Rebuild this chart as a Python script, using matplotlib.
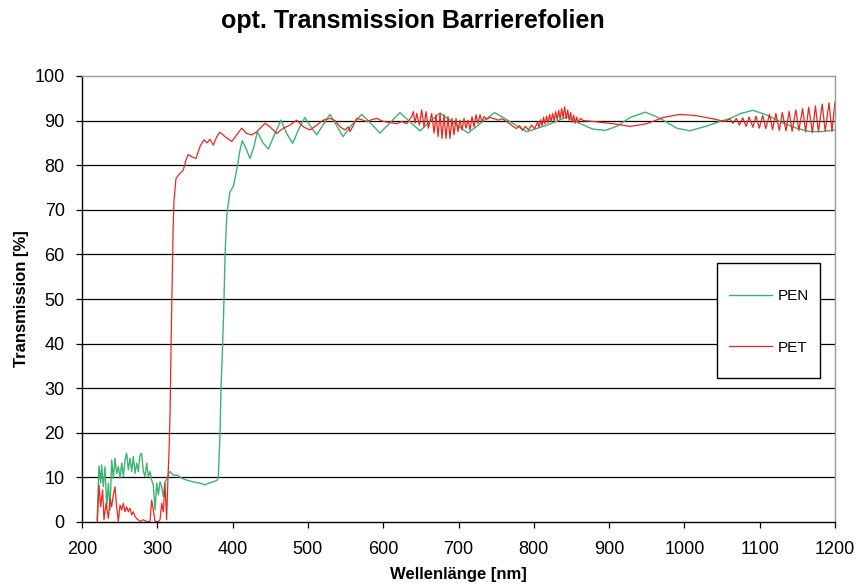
import matplotlib
matplotlib.use("Agg")
import matplotlib.pyplot as plt
from matplotlib.patches import Rectangle

plt.rcParams['font.family'] = ['Liberation Sans', 'DejaVu Sans']

title = "opt. Transmission Barrierefolien"
xlabel = "Wellenlänge [nm]"
ylabel = "Transmission [%]"
series_names = ["PEN", "PET"]
x_ticks = [200, 300, 400, 500, 600, 700, 800, 900, 1000, 1100, 1200]
y_ticks = [0, 10, 20, 30, 40, 50, 60, 70, 80, 90, 100]

pen_x = [220, 222.6, 224.8, 226.1, 228.3, 230.5, 232.8, 235, 237.2, 239.4, 241.6, 243.8,
         246, 248.3, 250.5, 252.7, 254.9, 257.1, 259.3, 261.5, 263.7, 266, 268.2, 270.4,
         272.6, 274.8, 277, 279.2, 281.5, 283.7, 285.9, 288.1, 290.3, 292.5, 294.7, 297,
         299.2, 301.4, 303.6, 305.8, 308, 310.2, 313.3, 315.1, 316.9, 321.3, 326.6, 332.4,
         339, 347.9, 356.7, 363.4, 367.8, 374.4, 379.7, 381, 383.3, 384.6, 386.8, 388.6,
         390, 392, 393, 396.5, 401, 406.3, 409.8, 412.9, 418.7, 423.1, 428.4, 432.8,
         440.8, 447.5, 456.3, 464.3, 471.8, 479.8, 487.3, 496, 503, 511.7, 520, 529.3,
         537, 546.6, 558, 571.4, 583, 595.7, 609, 622.3, 635, 648.9, 662, 675.4,
         694, 712.6, 730, 748, 768, 790.6, 818, 844, 861, 878, 895, 910,
         928, 948, 968, 990, 1007, 1030, 1047, 1061, 1075, 1091, 1109, 1130,
         1149, 1165, 1180, 1200]
pen_y = [0.5, 12.6, 8.7, 12.8, 7.9, 12.4, 3.4, 8.7, 2.7, 13.9, 9.8, 14.3,
         10.9, 12.4, 9.8, 13.2, 10.2, 13.9, 15.4, 11.7, 14.3, 11.3, 14.7, 10.9,
         13.2, 11.3, 15.0, 15.4, 11.3, 10.2, 13.2, 10.2, 11.3, 9.4, 8.3, 2.7,
         8.7, 6.1, 9.0, 7.9, 5.7, 9.0, 9.8, 10.9, 11.3, 10.5, 10.5, 9.8,
         9.4, 9.0, 8.7, 8.3, 8.7, 9.0, 9.4, 10, 20, 30, 40, 50,
         60, 67.7, 70, 74, 75.3, 79.7, 83.4, 85.5, 83.4, 81.5, 84.2, 87.5,
         84.9, 83.6, 87.1, 90.1, 87.1, 84.9, 87.9, 90.7, 88.8, 86.8, 89.0, 91.4,
         89.2, 86.4, 89.0, 91.4, 89.5, 87.2, 89.5, 91.8, 89.8, 87.7, 89.8, 91.7,
         89.5, 87.2, 89.5, 91.8, 89.8, 87.5, 89.0, 90.8, 89.4, 88.1, 87.8, 88.7,
         90.7, 91.9, 90.5, 88.3, 87.7, 88.8, 89.8, 90.5, 91.6, 92.3, 91.3, 89.5,
         88.3, 87.6, 87.5, 87.9]

pet_x = [220.4, 222.6, 224.8, 227.4, 229.2, 231.9, 235, 237.2, 239.4, 241.6, 243.8, 246,
         248.3, 250.5, 252.7, 254.9, 257.1, 259.3, 261.5, 263.7, 266, 268.2, 270.4, 272.6,
         277, 281.5, 285.9, 290.3, 292.5, 294.7, 297, 301.4, 303.6, 305.8, 308, 310.2,
         312.4, 314.2, 315.5, 317, 318.5, 320, 321, 322.2, 324.8, 329.2, 334.5, 338.1,
         341.2, 345.7, 351.4, 356.7, 362, 366, 370, 374.4, 378.9, 383.3, 389.9, 398.8,
         405.4, 412.1, 418.7, 425.4, 432, 443, 449.7, 458.6, 467.3, 476.2, 485.1, 493.9,
         502.8, 511.7, 520.5, 529.3, 536, 542.6, 549.3, 553.7, 555.9, 560.3, 564.8, 571.5,
         578.1, 584.7, 591.4, 600.2, 609, 617.9, 624.6, 631.2,
         637.8, 640.0, 642.2, 644.5, 648.0, 651.1, 654.2, 656.9, 660.0, 664.4, 667.5, 670.1,
         672.8, 675.5, 678.1, 680.8, 683.4, 686.1, 688.7, 691.4, 694.0, 696.7, 699.3, 702.0,
         704.7, 707.3, 710.0, 712.6, 715.3, 717.9, 720.6, 723.3, 725.9, 728.6, 731.2, 733.9,
         737.4, 741.8, 746.3, 752.9, 758, 764, 770, 777, 781, 785, 789, 793,
         797, 801, 805, 807, 809, 811, 813, 815, 817, 819, 821, 823,
         825, 827, 829, 831, 833, 835, 837, 839, 841, 843, 845, 847,
         849, 851, 853, 855, 857, 859, 862, 866, 880, 905, 928, 950,
         972, 994, 1016, 1038, 1051, 1056, 1060, 1064.5, 1069, 1073, 1077.5, 1082,
         1086, 1091, 1095, 1099.5, 1104, 1108, 1113, 1117, 1121.5, 1126, 1130, 1135,
         1139, 1143, 1148, 1152, 1157, 1161, 1165, 1170, 1174, 1178, 1183, 1187,
         1192, 1196, 1200]
pet_y = [0, 8.3, 3.4, 7.2, 0.5, 4.2, 0.8, 5.3, 3.4, 6.1, 7.9, 3.4,
         0.1, 3.8, 2.7, 4.2, 2.3, 3.4, 2.3, 3.1, 1.6, 2.3, 1.2, 0.8,
         0.1, 0.5, 0.1, 0.1, 4.9, 2.7, 0.1, 0.1, 0.5, 4.2, 2.3, 8.7,
         0.5, 10.2, 15.4, 25, 42, 56, 66, 72.2, 77, 78, 78.9, 81.2,
         82.4, 81.9, 81.5, 84.2, 85.7, 85.0, 85.8, 84.5, 86.4, 87.4, 86.4, 85.3,
         86.8, 88.3, 87.1, 86.8, 87.5, 89.4, 88.6, 87.1, 88.3, 89.0, 90.1, 88.6,
         87.9, 89.0, 90.1, 90.5, 90.0, 88.6, 87.9, 88.6, 87.5, 88.9, 90.5, 90.2,
         89.8, 90.2, 90.5, 89.8, 89.6, 89.3, 89.8, 89.3,
         90.9, 92.0, 89.4, 91.6, 89.0, 92.4, 88.6, 92.0, 88.3, 91.6, 87.2, 91.3,
         86.4, 91.6, 86.0, 91.3, 86.0, 90.9, 86.0, 90.5, 86.8, 90.5, 87.5, 90.1,
         87.9, 90.5, 88.3, 90.1, 87.9, 90.9, 88.6, 91.3, 89.4, 91.3, 89.8, 90.9,
         90.3, 90.7, 90.5, 90.1, 90.4, 89.8, 89.0, 88.2, 88.9, 87.8, 88.7, 87.9,
         89.0, 88.2, 89.6, 88.5, 90.2, 88.9, 90.8, 89.2, 91.0, 89.5, 91.4, 89.8,
         91.6, 89.9, 92.0, 90.2, 92.3, 90.4, 92.7, 90.6, 93.1, 90.4, 92.4, 90.1,
         91.8, 89.6, 91.2, 89.4, 90.8, 89.5, 90.5, 90.0, 89.8, 89.3, 88.7, 89.3,
         90.7, 91.4, 91.1, 90.4, 89.9, 89.9, 90.4, 89.4, 90.5, 89.0, 90.6, 88.7,
         90.8, 88.5, 91.0, 88.3, 91.2, 88.2, 91.4, 88.0, 91.6, 87.8, 91.8, 87.7,
         92.1, 87.6, 92.4, 87.8, 92.7, 87.5, 93.0, 87.3, 93.3, 87.5, 93.7, 87.6,
         94.0, 87.6, 94.2]

pen_color = '#3cb371'
pet_color = '#e8281f'

fig = plt.figure(figsize=(8.59, 5.85), dpi=100)
ax = fig.add_axes([82/859, 63/585, 753/859, 446/585])

ax.plot(pen_x, pen_y, color=pen_color, lw=1.0, label=series_names[0])
ax.plot(pet_x, pet_y, color=pet_color, lw=0.9, label=series_names[1])

ax.set_xlim(200, 1200)
ax.set_ylim(0, 100)
ax.set_xticks(x_ticks)
ax.set_yticks(y_ticks)
ax.tick_params(direction='out', length=4.5, width=0.9, labelsize=13, color='black')
ax.tick_params(axis='y', pad=8)
ax.tick_params(axis='x', pad=9)

for yv in y_ticks[1:-1]:
    ax.axhline(yv, color='black', lw=0.9, zorder=0)

for s in ['top', 'right']:
    ax.spines[s].set_color('#9a9a9a')
    ax.spines[s].set_linewidth(1.0)
for s in ['left', 'bottom']:
    ax.spines[s].set_color('black')
    ax.spines[s].set_linewidth(1.0)

ax.set_xlabel(xlabel, fontsize=12, fontweight='bold', labelpad=7)
ax.set_ylabel(ylabel, fontsize=12, fontweight='bold', labelpad=4)
fig.text(0.481, 0.964, title, fontsize=18, fontweight='bold', ha='center', va='center')

# legend box
ax.add_patch(Rectangle((0.843, 0.323), 0.137, 0.258, transform=ax.transAxes,
                       facecolor='white', edgecolor='black', lw=1.0, zorder=5))
leg = ax.legend(loc='center left', bbox_to_anchor=(0.859, 0.4485), frameon=False,
                fontsize=11, handlelength=2.85, handletextpad=0.35,
                labelspacing=2.45, borderpad=0, borderaxespad=0)
leg.set_zorder(6)

fig.savefig('out.png', dpi=100)
